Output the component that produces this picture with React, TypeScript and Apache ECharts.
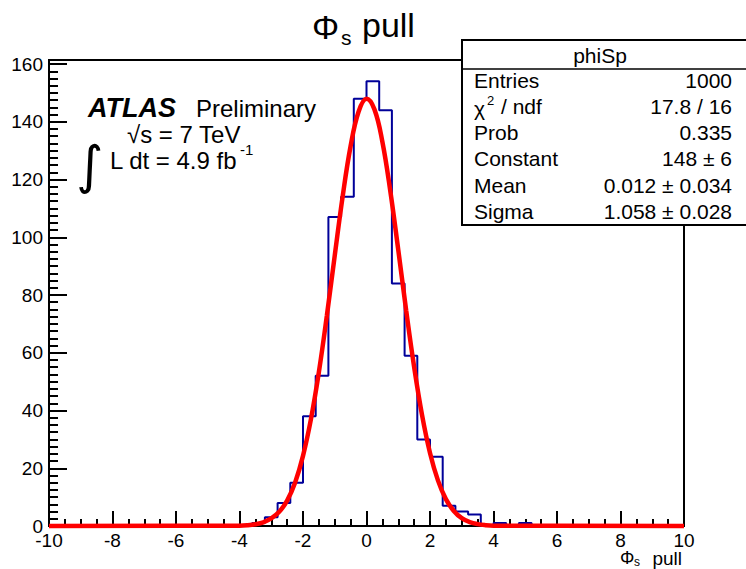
import React, { useEffect, useRef } from "react";
import * as echarts from "echarts";

// Histogram: 50 bins of width 0.4 from -10 to 10
const xMin = -10;
const xMax = 10;
const binWidth = 0.4;
const binCounts = [
  0, 0, 0, 0, 0, 0, 0, 0, 0, 0, 0, 0, 0, 0, 0, 0,
  1, 3, 8, 15, 38, 52, 107, 114, 148, 154, 144, 84, 59, 30, 24, 7, 5, 4, 0, 1, 0, 1,
  0, 0, 0, 0, 0, 0, 0, 0, 0, 0, 0, 0,
];

// Gaussian fit curve
const fitX = [-10, -4, -3.75, -3.5, -3.25, -3, -2.75, -2.5, -2.25, -2, -1.75, -1.5, -1.25, -1, -0.75, -0.5, -0.25, 0, 0.25, 0.5, 0.75, 1, 1.25, 1.5, 1.75, 2, 2.25, 2.5, 2.75, 3, 3.25, 3.5, 3.75, 4, 10];
const fitY = [0, 0.11, 0.27, 0.62, 1.28, 2.6, 4.9, 8.8, 15.0, 24.3, 37.0, 53.3, 72.7, 93.7, 114.2, 131.6, 143.5, 148.0, 144.3, 133.1, 116.0, 95.7, 74.6, 55.1, 38.4, 25.3, 15.8, 9.3, 5.2, 2.7, 1.37, 0.65, 0.29, 0.12, 0];

const statsTitle = "phiSp";
const statsLabels = ["Entries", "", "Prob", "Constant", "Mean", "Sigma"];
const statsValues = ["1000", "17.8 / 16", "0.335", "148 ± 6", "0.012 ± 0.034", "1.058 ± 0.028"];

const FONT = "'Liberation Sans', Arial, Helvetica, sans-serif";

export default function App() {
  const ref = useRef<HTMLDivElement>(null);
  useEffect(() => {
    if (!ref.current) return;
    const chart = echarts.init(ref.current, null, { renderer: "svg" });

    const histData: number[][] = binCounts.map((c, i) => [Number((xMin + i * binWidth).toFixed(2)), c]);
    histData.push([xMax, 0]);
    const fitData = fitX.map((x, i) => [x, fitY[i]]);

    const rowY0 = 80;
    const rowDy = 26.3;
    const statTexts: any[] = [];
    statsLabels.forEach((lab, i) => {
      if (lab) {
        statTexts.push({
          type: "text", z: 101, x: 474, y: rowY0 + i * rowDy,
          style: { text: lab, font: `21px ${FONT}`, fill: "#000", verticalAlign: "middle" },
        });
      }
      statTexts.push({
        type: "text", z: 101,
        x: 732, y: rowY0 + i * rowDy,
        style: { text: statsValues[i], font: `21px ${FONT}`, fill: "#000", align: "right", verticalAlign: "middle" },
      });
    });
    // chi2 / ndf label
    statTexts.push(
      { type: "text", z: 101, x: 474, y: rowY0 + rowDy + 2, style: { text: "χ", font: `21px ${FONT}`, fill: "#000", verticalAlign: "middle" } },
      { type: "text", z: 101, x: 487, y: rowY0 + rowDy - 6, style: { text: "2", font: `13px ${FONT}`, fill: "#000", verticalAlign: "middle" } },
      { type: "text", z: 101, x: 501, y: rowY0 + rowDy, style: { text: "/ ndf", font: `21px ${FONT}`, fill: "#000", verticalAlign: "middle" } }
    );

    chart.setOption({
      animation: false,
      backgroundColor: "#fff",
      grid: {
        left: 49, right: 62, top: 60, bottom: 43,
        show: true, borderColor: "#000", borderWidth: 2, backgroundColor: "transparent",
      },
      xAxis: {
        type: "value", min: xMin, max: xMax, interval: 2,
        axisLine: { show: true, onZero: false, lineStyle: { color: "#000", width: 2 } },
        axisTick: { show: true, inside: true, length: 15, lineStyle: { color: "#000", width: 2 } },
        minorTick: { show: true, splitNumber: 4, length: 7, lineStyle: { color: "#000", width: 2 } },
        splitLine: { show: false },
        axisLabel: { color: "#000", fontSize: 19, fontFamily: FONT, margin: 5, showMinLabel: true, showMaxLabel: true },
      },
      yAxis: {
        type: "value", min: 0, max: 161.4, interval: 20,
        axisLine: { show: true, onZero: false, lineStyle: { color: "#000", width: 2 } },
        axisTick: { show: true, inside: true, length: 18, lineStyle: { color: "#000", width: 2 } },
        minorTick: { show: true, splitNumber: 8, length: 9, lineStyle: { color: "#000", width: 2 } },
        splitLine: { show: false },
        axisLabel: {
          color: "#000", fontSize: 19, fontFamily: FONT, margin: 6, showMaxLabel: false,
          formatter: (v: number) => (Math.abs(v % 20) < 1e-6 ? String(v) : ""),
        },
      },
      series: [
        {
          type: "line", data: histData, step: "end", symbol: "none",
          lineStyle: { color: "#000099", width: 2 }, z: 3,
        },
        {
          type: "line", data: fitData, smooth: 0.4, symbol: "none", clip: false,
          lineStyle: { color: "#ff0000", width: 4.5 }, z: 4,
        },
      ],
      graphic: [
        // title
        { type: "text", x: 312, y: 27, style: { text: "Φ", font: `34px ${FONT}`, fill: "#000", verticalAlign: "middle" } },
        { type: "text", x: 341, y: 37, style: { text: "s", font: `21px ${FONT}`, fill: "#000", verticalAlign: "middle" } },
        { type: "text", x: 362, y: 25, style: { text: "pull", font: `34px ${FONT}`, fill: "#000", verticalAlign: "middle" } },
        // x-axis title
        { type: "text", x: 620, y: 558, style: { text: "Φ", font: `18px ${FONT}`, fill: "#000", verticalAlign: "middle" } },
        { type: "text", x: 634, y: 562, style: { text: "s", font: `12px ${FONT}`, fill: "#000", verticalAlign: "middle" } },
        { type: "text", x: 682, y: 558, style: { text: "pull", font: `19px ${FONT}`, fill: "#000", align: "right", verticalAlign: "middle" } },
        // ATLAS label
        { type: "text", x: 88, y: 108, style: { text: "ATLAS", font: `italic bold 27px ${FONT}`, fill: "#000", verticalAlign: "middle" } },
        { type: "text", x: 196, y: 108, style: { text: "Preliminary", font: `24px ${FONT}`, fill: "#000", verticalAlign: "middle" } },
        { type: "text", x: 127, y: 134, style: { text: "√s = 7 TeV", font: `24px ${FONT}`, fill: "#000", verticalAlign: "middle" } },
        { type: "text", x: 76, y: 165, style: { text: "∫", font: `52px 'DejaVu Sans', ${FONT}`, fill: "#000", verticalAlign: "middle" } },
        { type: "text", x: 110, y: 160, style: { text: "L dt = 4.9 fb", font: `24px ${FONT}`, fill: "#000", verticalAlign: "middle" } },
        { type: "text", x: 240, y: 149, style: { text: "-1", font: `15px ${FONT}`, fill: "#000", verticalAlign: "middle" } },
        // stats box
        {
          type: "rect", z: 100,
          shape: { x: 462, y: 40, width: 300, height: 185 },
          style: { fill: "#fff", stroke: "#000", lineWidth: 2 },
        },
        {
          type: "line", z: 101,
          shape: { x1: 462, y1: 69, x2: 746, y2: 69 },
          style: { stroke: "#000", lineWidth: 1.5 },
        },
        {
          type: "text", z: 101, x: 600, y: 55,
          style: { text: statsTitle, font: `21px ${FONT}`, fill: "#000", align: "center", verticalAlign: "middle" },
        },
        ...statTexts,
      ],
    });
    return () => chart.dispose();
  }, []);
  return <div ref={ref} style={{ width: 746, height: 569, position: "absolute", left: 0, top: 0 }} />;
}
